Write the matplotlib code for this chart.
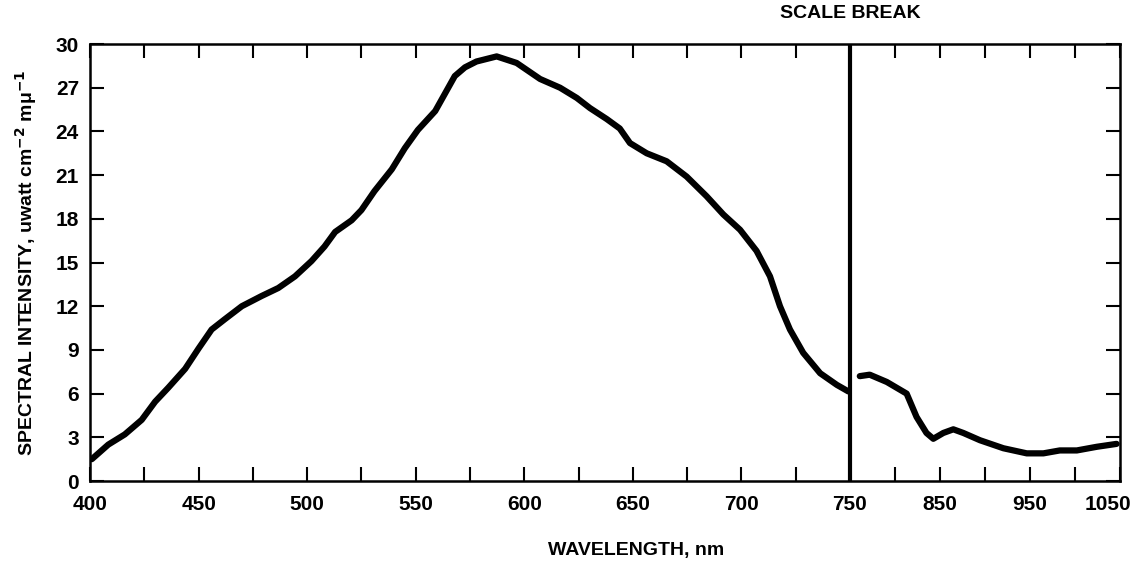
import numpy as np
import matplotlib
matplotlib.use('Agg')
import matplotlib.pyplot as plt
from matplotlib.transforms import ScaledTranslation

# visible spectrum part (left of the scale break)
wl_vis = [400.8, 408.4, 416, 423.8, 430, 436, 443.8, 450, 456, 462, 469.9, 479,
          486.7, 494.4, 502, 508, 512.9, 520.5, 525, 531, 539, 545, 551, 559,
          563.5, 568, 572.7, 578, 587.3, 596.5, 607.3, 616.5, 624.2, 630.3, 638,
          644, 648.7, 656.4, 665.6, 674.8, 684, 691.7, 699.4, 707, 713.2, 717.8,
          722.4, 728.5, 736.3, 744, 749.3]
int_vis = [1.5, 2.5, 3.2, 4.2, 5.45, 6.4, 7.7, 9.1, 10.4, 11.1, 12.0, 12.7,
           13.25, 14.05, 15.1, 16.1, 17.1, 17.9, 18.6, 19.9, 21.4, 22.85, 24.1, 25.4,
           26.6, 27.8, 28.4, 28.8, 29.15, 28.7, 27.6, 27.0, 26.3, 25.6, 24.85,
           24.2, 23.2, 22.5, 21.95, 20.9, 19.55, 18.3, 17.25, 15.8, 14.05, 12.0,
           10.4, 8.8, 7.4, 6.6, 6.15]

# near infrared part (right of the scale break)
wl_ir = [761, 772, 791, 813, 824, 835, 842.6, 853.7, 864.8, 875.9, 894.4, 920.4,
         946.3, 964.8, 983, 1001.9, 1024, 1046]
int_ir = [7.2, 7.3, 6.8, 6.0, 4.4, 3.3, 2.9, 3.3, 3.55, 3.3, 2.8, 2.25,
          1.9, 1.9, 2.1, 2.1, 2.35, 2.55]

x_ticks = [400, 425, 450, 475, 500, 525, 550, 575, 600, 625, 650, 675, 700, 725,
           750, 800, 850, 900, 950, 1000, 1050]
x_labels = ['400', '', '450', '', '500', '', '550', '', '600', '', '650', '', '700', '',
            '750', '', '850', '', '950', '', '1050']
y_ticks = [0, 3, 6, 9, 12, 15, 18, 21, 24, 27, 30]

BREAK = 750
K = 0.415  # compression of the scale past the break


def fwd(x):
    x = np.asarray(x, dtype=float)
    return np.where(x <= BREAK, x, BREAK + (x - BREAK) * K)


def inv(x):
    x = np.asarray(x, dtype=float)
    return np.where(x <= BREAK, x, BREAK + (x - BREAK) / K)


plt.rcParams['font.family'] = ['Liberation Sans', 'DejaVu Sans']
plt.rcParams['font.weight'] = 'bold'
plt.rcParams['axes.labelweight'] = 'bold'

fig = plt.figure(figsize=(11.37, 5.63), dpi=100)
ax = fig.add_axes([0.0792, 0.1456, 0.906, 0.7762])
ax.set_xscale('function', functions=(fwd, inv))

ax.plot(wl_vis, int_vis, color='black', lw=4.5, solid_capstyle='round',
        solid_joinstyle='round')
ax.plot(wl_ir, int_ir, color='black', lw=4.5, solid_capstyle='round',
        solid_joinstyle='round')
ax.axvline(BREAK, color='black', lw=3)

ax.set_xlim(400, 1050)
ax.set_ylim(0, 30)
ax.set_xticks(x_ticks)
ax.set_xticklabels(x_labels)
ax.set_yticks(y_ticks)
ax.set_yticklabels([str(v) for v in y_ticks])
ax.minorticks_off()

ax.tick_params(direction='in', length=10, width=1.5, top=True, right=True,
               labelsize=15)
ax.tick_params(axis='x', pad=10)
ax.tick_params(axis='y', pad=8)
for s in ax.spines.values():
    s.set_linewidth(1.8)

# nudge the last label so it stays inside the figure, as in the original
last = ax.get_xticklabels()[-1]
last.set_transform(last.get_transform() + ScaledTranslation(-9 / 72, 0, fig.dpi_scale_trans))

ax.set_xlabel('WAVELENGTH, nm', fontsize=14)
ax.xaxis.set_label_coords(0.53, -0.14)
ax.set_ylabel('SPECTRAL INTENSITY, uwatt cm$^{-2}$ mμ$^{-1}$', fontsize=14, labelpad=12)
ax.text(BREAK, 31.5, 'SCALE BREAK', ha='center', va='bottom', fontsize=14)

fig.savefig('out.png', dpi=100)
